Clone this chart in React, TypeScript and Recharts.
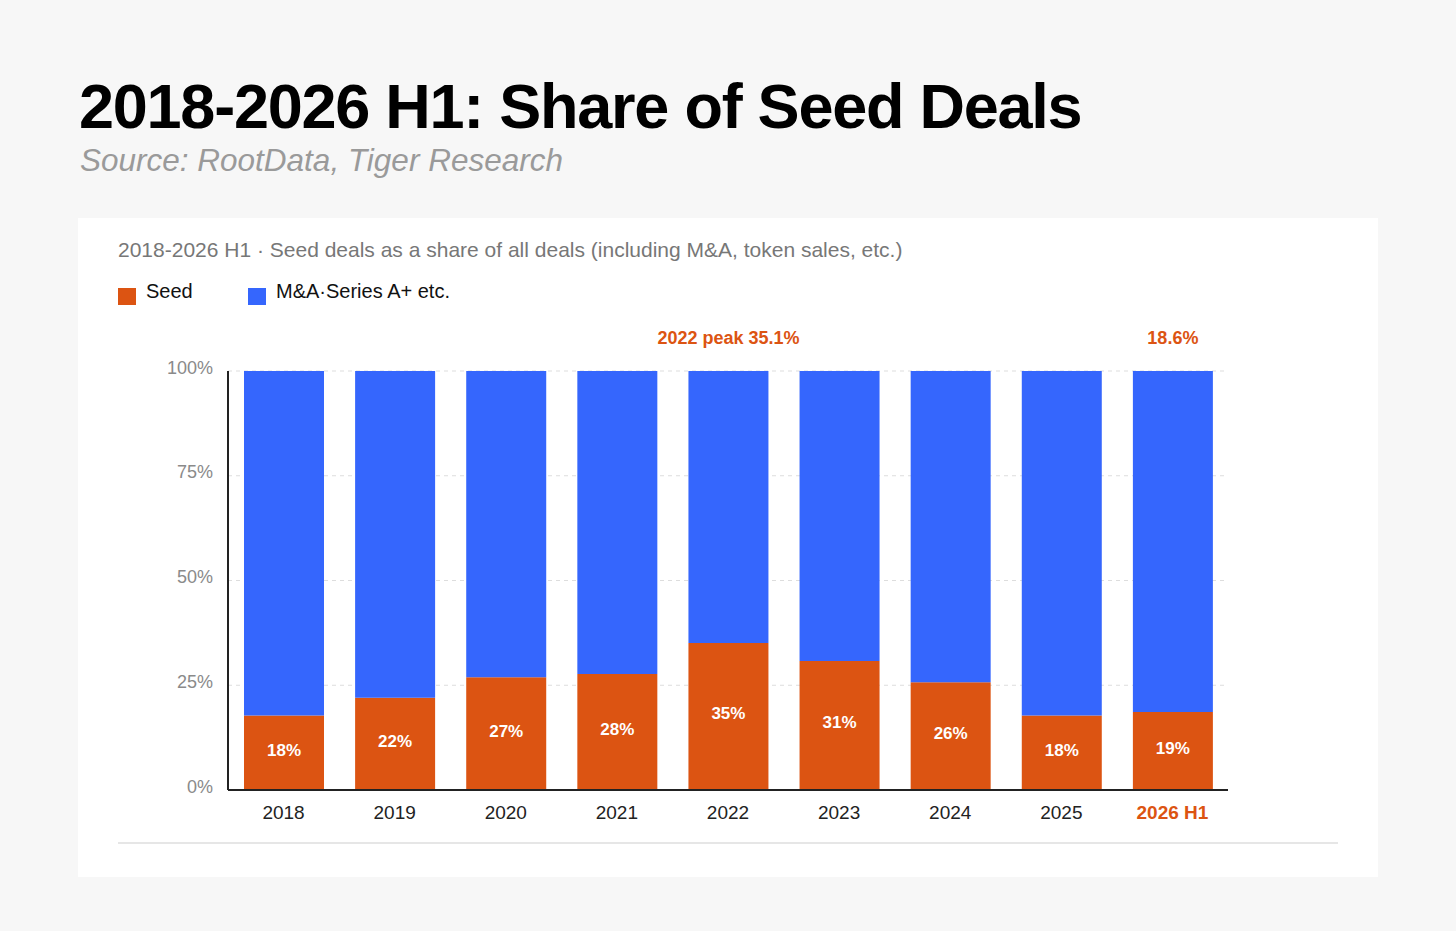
import { BarChart, Bar, XAxis, YAxis, CartesianGrid, LabelList } from "recharts";

const ORANGE = "#DC5412";
const BLUE = "#3566FD";
const FONT = '"Liberation Sans", Arial, Helvetica, sans-serif';

// categories + values
const years = ["2018", "2019", "2020", "2021", "2022", "2023", "2024", "2025", "2026 H1"];
const seedShare = [17.8, 22.0, 26.9, 27.7, 35.1, 30.8, 25.7, 17.8, 18.6];
const otherShare = [82.2, 78.0, 73.1, 72.3, 64.9, 69.2, 74.3, 82.2, 81.4];
const notes = ["", "", "", "", "2022 peak 35.1%", "", "", "", "18.6%"];
const yTicks = [0, 25, 50, 75, 100];
const highlightYear = "2026 H1";

const data = years.map((year, i) => ({
  year,
  seed: seedShare[i],
  other: otherShare[i],
  note: notes[i],
}));

const XTick = (props: any) => {
  const { x, y, payload } = props;
  const hl = payload.value === highlightYear;
  return (
    <text
      x={x}
      y={y}
      dy={27}
      textAnchor="middle"
      fontFamily={FONT}
      fontSize={19}
      fontWeight={hl ? 700 : 400}
      fill={hl ? ORANGE : "#222"}
    >
      {payload.value}
    </text>
  );
};

const YTick = (props: any) => {
  const { x, y, payload } = props;
  return (
    <text x={x} y={y} dy={2.5} textAnchor="end" fontFamily={FONT} fontSize={18} fill="#8a8a8a">
      {payload.value}%
    </text>
  );
};

const SeedLabel = (props: any) => {
  const { x, y, width, height, value } = props;
  return (
    <text
      x={Number(x) + Number(width) / 2}
      y={Number(y) + Number(height) / 2 + 3}
      textAnchor="middle"
      fontFamily={FONT}
      fontSize={17}
      fontWeight={700}
      fill="#fff"
    >
      {Math.round(Number(value))}%
    </text>
  );
};

const NoteLabel = (props: any) => {
  const { x, y, width, value } = props;
  if (!value) return null;
  return (
    <text
      x={Number(x) + Number(width) / 2}
      y={Number(y) - 27}
      textAnchor="middle"
      fontFamily={FONT}
      fontSize={18}
      fontWeight={700}
      fill={ORANGE}
    >
      {value}
    </text>
  );
};

export default function App() {
  return (
    <div
      style={{
        position: "absolute",
        left: 0,
        top: 0,
        width: 1456,
        height: 931,
        background: "#f7f7f7",
        fontFamily: FONT,
        overflow: "hidden",
      }}
    >
      <div
        style={{
          position: "absolute",
          left: 79,
          top: 75,
          fontSize: 63,
          lineHeight: "63px",
          fontWeight: 700,
          letterSpacing: "-1.25px",
          color: "#000",
          whiteSpace: "nowrap",
        }}
      >
        2018-2026 H1: Share of Seed Deals
      </div>
      <div
        style={{
          position: "absolute",
          left: 80,
          top: 145,
          fontSize: 31.5,
          lineHeight: "31.5px",
          fontStyle: "italic",
          color: "#9a9a9a",
          whiteSpace: "nowrap",
        }}
      >
        Source: RootData, Tiger Research
      </div>

      {/* white card */}
      <div
        style={{
          position: "absolute",
          left: 78,
          top: 218,
          width: 1300,
          height: 659,
          background: "#fff",
        }}
      >
        <div
          style={{
            position: "absolute",
            left: 40,
            top: 21,
            fontSize: 21,
            lineHeight: "21px",
            color: "#777",
            whiteSpace: "nowrap",
          }}
        >
          2018-2026 H1 · Seed deals as a share of all deals (including M&amp;A, token sales, etc.)
        </div>

        {/* legend */}
        <div style={{ position: "absolute", left: 40, top: 70, width: 18, height: 17, background: ORANGE }} />
        <div style={{ position: "absolute", left: 68, top: 63, fontSize: 20, lineHeight: "20px", color: "#111" }}>
          Seed
        </div>
        <div style={{ position: "absolute", left: 170, top: 70, width: 18, height: 17, background: BLUE }} />
        <div
          style={{
            position: "absolute",
            left: 198,
            top: 63,
            fontSize: 20,
            lineHeight: "20px",
            color: "#111",
            whiteSpace: "nowrap",
          }}
        >
          M&amp;A·Series A+ etc.
        </div>

        <div style={{ position: "absolute", left: 50, top: 92 }}>
          <BarChart
            width={1120}
            height={520}
            data={data}
            margin={{ top: 61, right: 20, left: 0, bottom: 0 }}
            barSize={80}
          >
            <CartesianGrid vertical={false} stroke="#dddddd" strokeDasharray="4 4" />
            <XAxis
              dataKey="year"
              height={40}
              tick={<XTick />}
              tickLine={false}
              tickSize={0}
              axisLine={{ stroke: "#222", strokeWidth: 2 }}
            />
            <YAxis
              width={100}
              domain={[0, 100]}
              ticks={yTicks}
              tick={<YTick />}
              tickLine={false}
              tickSize={0}
              tickMargin={15}
              axisLine={{ stroke: "#222", strokeWidth: 2 }}
            />
            <Bar dataKey="seed" stackId="a" fill={ORANGE} isAnimationActive={false}>
              <LabelList dataKey="seed" content={<SeedLabel />} />
            </Bar>
            <Bar dataKey="other" stackId="a" fill={BLUE} isAnimationActive={false}>
              <LabelList dataKey="note" content={<NoteLabel />} />
            </Bar>
          </BarChart>
        </div>

        <div
          style={{
            position: "absolute",
            left: 40,
            top: 624,
            width: 1220,
            height: 2,
            background: "#e6e6e6",
          }}
        />
      </div>
    </div>
  );
}
